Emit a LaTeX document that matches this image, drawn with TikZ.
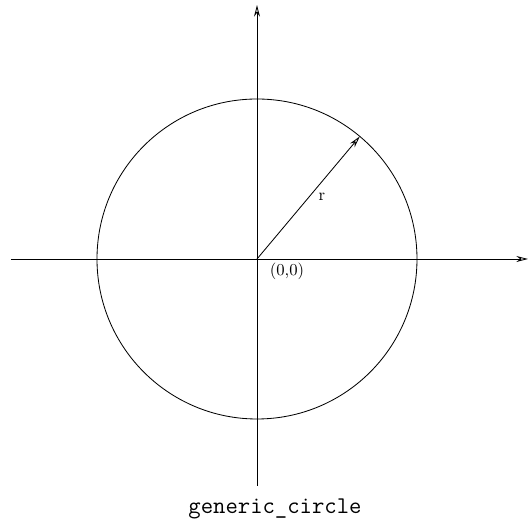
\documentclass[tikz,border=0pt]{standalone}
\usepackage{tikz}
\usetikzlibrary{arrows}
\usetikzlibrary{arrows.meta}
\newcommand{\circname}{\texttt{generic\_circle}}

\begin{document}
\begin{tikzpicture}[x=0.6pt,y=0.6pt,line width=0.5pt,>={Stealth[open,length=7pt,width=3.6pt]}]
\useasboundingbox (-257,-268) rectangle (273,259);

\draw (0,0) coordinate(O) ;
\draw (-246,0) coordinate(xl) ;
\draw (271,0) coordinate(xr) ;
\draw (0,-227) coordinate(yb) ;
\draw (0,254) coordinate(yt) ;
\draw (50:160) coordinate(rt) ;

\draw[->] (xl) -- (xr);
\draw[->] (yb) -- (yt);

\draw (O) circle (160);

\draw[->] (O) -- (rt);

\draw (65,62) node(rlab) {r} ;
\draw (30,-12) node(olab) {(0,0)} ;

\draw (18,-255) node[anchor=base](cap) {\fontsize{14.4}{17}\selectfont\circname} ;
\end{tikzpicture}
\end{document}
